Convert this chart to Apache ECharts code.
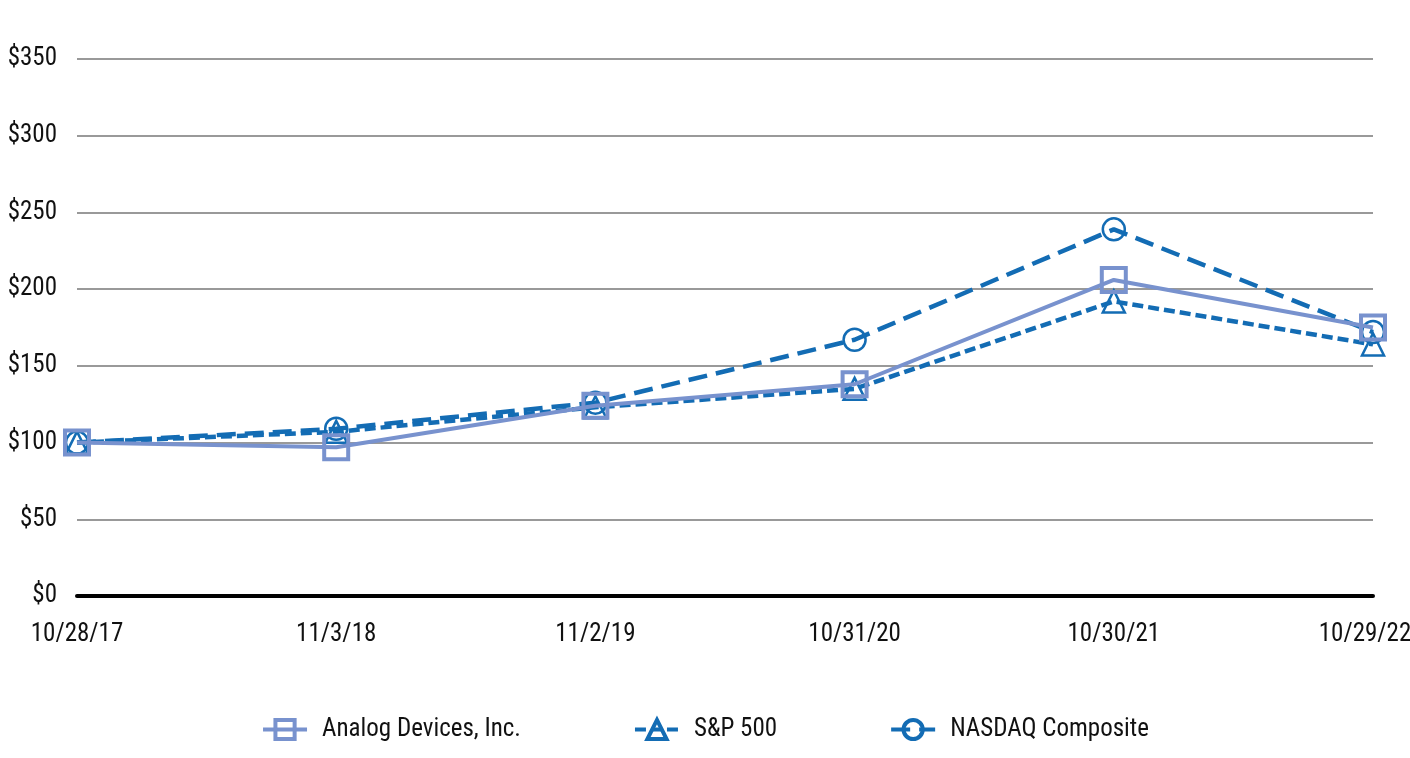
<!DOCTYPE html>
<html><head><meta charset="utf-8">
<script src="https://cdn.jsdelivr.net/npm/echarts@6/dist/echarts.min.js"></script>
<style>html,body{margin:0;padding:0;background:#fff}#c{width:1410px;height:758px}</style>
</head><body><div id="c"></div>
<script>
const categories = ['10/28/17','11/3/18','11/2/19','10/31/20','10/30/21','10/29/22'];
const adi = [100, 97, 124, 138, 206, 175];
const sp500 = [100, 107, 123, 135, 192, 164];
const nasdaq = [100, 109, 126, 167, 239, 172];
const seriesNames = ['Analog Devices, Inc.','S&P 500','NASDAQ Composite'];
const FONT = '"Roboto Condensed","DejaVu Sans Condensed",sans-serif';
const C1 = '#7892CE', C2 = '#136CB4';
const xData = categories.map((c,i)=> i===categories.length-1 ? {value:c,textStyle:{padding:[0,16,0,0]}} : c);
const chart = echarts.init(document.getElementById('c'));
chart.setOption({
  animation:false,
  grid:{left:77,right:37,top:59,bottom:162,outerBoundsMode:'none',containLabel:false},
  legend:{bottom:11,left:'center',itemGap:112,itemWidth:44,itemHeight:24,
    textStyle:{fontFamily:FONT,fontSize:25,color:'#111',padding:[0,0,0,10]},
    data:[
      {name:seriesNames[0],lineStyle:{width:4},itemStyle:{borderWidth:4}},
      {name:seriesNames[1],lineStyle:{width:4},itemStyle:{borderWidth:4}},
      {name:seriesNames[2],lineStyle:{width:4},itemStyle:{borderWidth:4}}
    ]},
  xAxis:{type:'category',data:xData,boundaryGap:false,
    axisLine:{lineStyle:{color:'#000',width:4}},axisTick:{show:false},
    axisLabel:{fontFamily:FONT,fontSize:25,color:'#111',margin:26}},
  yAxis:{type:'value',min:0,max:350,interval:50,
    axisLine:{show:false},axisTick:{show:false},
    splitLine:{lineStyle:{color:'#999',width:2}},
    axisLabel:{fontFamily:FONT,fontSize:25,color:'#111',margin:20,formatter:v=>'$'+v}},
  series:[
    {name:seriesNames[2],type:'line',data:nasdaq,z:2,symbol:'circle',symbolSize:22,
      lineStyle:{color:C2,width:4.5,type:[19,9]},
      itemStyle:{color:'rgba(0,0,0,0)',borderColor:C2,borderWidth:2.5}},
    {name:seriesNames[1],type:'line',data:sp500,z:3,symbol:'triangle',symbolSize:22,
      lineStyle:{color:C2,width:4.5,type:[11,5]},
      itemStyle:{color:'rgba(0,0,0,0)',borderColor:C2,borderWidth:2.5}},
    {name:seriesNames[0],type:'line',data:adi,z:4,symbol:'rect',symbolSize:24,
      lineStyle:{color:C1,width:4},
      itemStyle:{color:'rgba(0,0,0,0)',borderColor:C1,borderWidth:4}}
  ]
});
</script></body></html>
